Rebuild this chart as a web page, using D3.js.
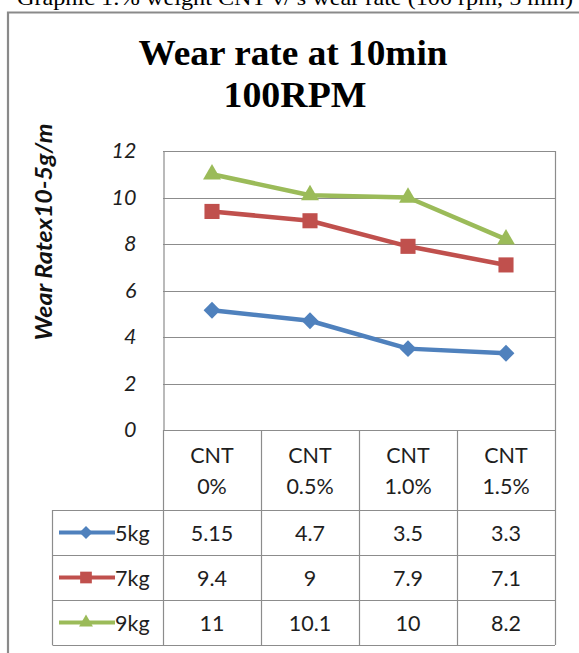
<!DOCTYPE html>
<html>
<head>
<meta charset="utf-8">
<script src="https://cdn.jsdelivr.net/npm/d3@7"></script>
<style>
  html, body { margin: 0; padding: 0; background: #fff; }
  svg { display: block; }
</style>
</head>
<body>
<svg id="chart" width="579" height="653"></svg>
<script>
// Wear rate data (x10^-5 g/m) by CNT content and load
const categories = ["CNT 0%", "CNT 0.5%", "CNT 1.0%", "CNT 1.5%"];
const seriesNames = ["5kg", "7kg", "9kg"];
const load5kg = [5.15, 4.7, 3.5, 3.3];
const load7kg = [9.4, 9, 7.9, 7.1];
const load9kg = [11, 10.1, 10, 8.2];
const tableLabels5kg = ["5.15", "4.7", "3.5", "3.3"];
const tableLabels7kg = ["9.4", "9", "7.9", "7.1"];
const tableLabels9kg = ["11", "10.1", "10", "8.2"];
const yTicks = [0, 2, 4, 6, 8, 10, 12];

const series = [
  { name: seriesNames[0], values: load5kg, labels: tableLabels5kg, color: "#4F81BD", marker: d3.symbolDiamond2 },
  { name: seriesNames[1], values: load7kg, labels: tableLabels7kg, color: "#C0504D", marker: d3.symbolSquare2 },
  { name: seriesNames[2], values: load9kg, labels: tableLabels9kg, color: "#9BBB59", marker: d3.symbolTriangle2 }
];

const svg = d3.select("#chart");
const gridColor = "#8c8c8c";
const textColor = "#1e1e1e";
const sans = "Lato, 'Open Sans', sans-serif";
const serif = "'Liberation Serif', 'Times New Roman', serif";
const tableFont = "21.5px";

// Document caption above the chart frame
svg.append("text")
  .attr("x", 17).attr("y", 5)
  .attr("textLength", 556).attr("lengthAdjust", "spacingAndGlyphs")
  .style("font-family", serif).style("font-size", "21px").style("fill", "#000")
  .text("Graphic 1:% weight CNT v/ s wear rate (100 rpm, 5 min)");

// Chart frame
svg.append("path")
  .attr("d", "M8,653 V12.5 H579")
  .attr("fill", "none").attr("stroke", "#8a8a8a").attr("stroke-width", 2.2);

// Title (two lines)
const titleStyle = t => t.attr("text-anchor", "middle")
  .attr("lengthAdjust", "spacingAndGlyphs")
  .style("font-family", serif).style("font-weight", "bold").style("font-size", "35px").style("fill", "#000");
svg.append("text").call(titleStyle)
  .attr("x", 293).attr("y", 65).attr("textLength", 309).text("Wear rate at 10min");
svg.append("text").call(titleStyle)
  .attr("x", 295).attr("y", 107).attr("textLength", 143).text("100RPM");

// Scales
const x = d3.scaleBand().domain(categories).range([163, 555]).padding(0);
const y = d3.scaleLinear().domain([0, 12]).range([430, 151]);

// Horizontal gridlines
svg.append("g")
  .selectAll("line").data(yTicks.filter(t => t > 0)).join("line")
  .attr("x1", 163).attr("x2", 555)
  .attr("y1", d => Math.round(y(d)) + 0.5).attr("y2", d => Math.round(y(d)) + 0.5)
  .attr("stroke", gridColor).attr("stroke-width", 1.2);

// Y axis
const yAxis = svg.append("g")
  .attr("transform", "translate(163.5,0)")
  .call(d3.axisLeft(y).tickValues(yTicks).tickSize(0).tickPadding(27).tickFormat(d3.format("d")));
yAxis.select(".domain").attr("stroke", gridColor).attr("stroke-width", 1.2);
yAxis.selectAll("text")
  .style("font-family", sans).style("font-style", "italic")
  .style("font-size", "21.5px").style("fill", textColor);

// Y axis title
svg.append("text")
  .attr("transform", "translate(52,232) rotate(-90)")
  .attr("text-anchor", "middle")
  .attr("textLength", 217).attr("lengthAdjust", "spacingAndGlyphs")
  .style("font-family", sans).style("font-style", "italic").style("font-weight", "bold")
  .style("font-size", "22px").style("fill", "#111")
  .text("Wear Ratex10-5g/m");

// Data table grid
const tableTop = 430, headerBottom = 510, rowH = 45, legendLeft = 52.5;
const rowTops = series.map((s, i) => headerBottom + i * rowH);
const tableBottom = headerBottom + series.length * rowH;
const grid = svg.append("g").attr("stroke", gridColor).attr("stroke-width", 1.2);
grid.append("line").attr("x1", 163).attr("x2", 555).attr("y1", tableTop + 0.5).attr("y2", tableTop + 0.5);
[headerBottom, ...rowTops.slice(1), tableBottom].forEach(yy => {
  grid.append("line").attr("x1", legendLeft).attr("x2", 555).attr("y1", yy + 0.5).attr("y2", yy + 0.5);
});
categories.forEach(c => {
  grid.append("line").attr("x1", x(c) + 0.5).attr("x2", x(c) + 0.5)
    .attr("y1", tableTop).attr("y2", tableBottom);
});
grid.append("line").attr("x1", 555.5).attr("x2", 555.5).attr("y1", 151).attr("y2", tableBottom);
grid.append("line").attr("x1", legendLeft).attr("x2", legendLeft).attr("y1", headerBottom).attr("y2", tableBottom);

// Category header labels (two lines)
const header = svg.append("g")
  .style("font-family", sans).style("font-size", tableFont).style("fill", textColor)
  .attr("text-anchor", "middle");
categories.forEach(c => {
  const parts = c.split(" ");
  const cx = x(c) + x.bandwidth() / 2;
  header.append("text").attr("x", cx).attr("y", 463).text(parts[0]);
  header.append("text").attr("x", cx).attr("y", 494).text(parts[1]);
});

// Series lines and markers
const line = d3.line()
  .x((d, i) => x(categories[i]) + x.bandwidth() / 2)
  .y(d => y(d));

const markerSize = { "5kg": 180, "7kg": 290, "9kg": 230 };

series.forEach(s => {
  svg.append("path")
    .datum(s.values)
    .attr("d", line)
    .attr("fill", "none").attr("stroke", s.color)
    .attr("stroke-width", 4.5).attr("stroke-linejoin", "round");
  svg.append("g").selectAll("path").data(s.values).join("path")
    .attr("transform", (d, i) => `translate(${x(categories[i]) + x.bandwidth() / 2},${y(d)})`)
    .attr("d", d3.symbol().type(s.marker).size(markerSize[s.name]))
    .attr("fill", s.color);
});

// Table rows: legend key + values
series.forEach((s, i) => {
  const cy = rowTops[i] + rowH / 2;
  svg.append("line")
    .attr("x1", 59).attr("x2", 115).attr("y1", cy).attr("y2", cy)
    .attr("stroke", s.color).attr("stroke-width", 4);
  svg.append("path")
    .attr("transform", `translate(86,${cy})`)
    .attr("d", d3.symbol().type(s.marker).size(markerSize[s.name] * 0.6))
    .attr("fill", s.color);
  svg.append("text")
    .attr("x", 115).attr("y", cy + 8)
    .style("font-family", sans).style("font-size", tableFont).style("fill", textColor)
    .text(s.name);
  svg.append("g").selectAll("text").data(s.labels).join("text")
    .attr("x", (d, j) => x(categories[j]) + x.bandwidth() / 2)
    .attr("y", cy + 8)
    .attr("text-anchor", "middle")
    .style("font-family", sans).style("font-size", tableFont).style("fill", textColor)
    .text(d => d);
});
</script>
</body>
</html>
